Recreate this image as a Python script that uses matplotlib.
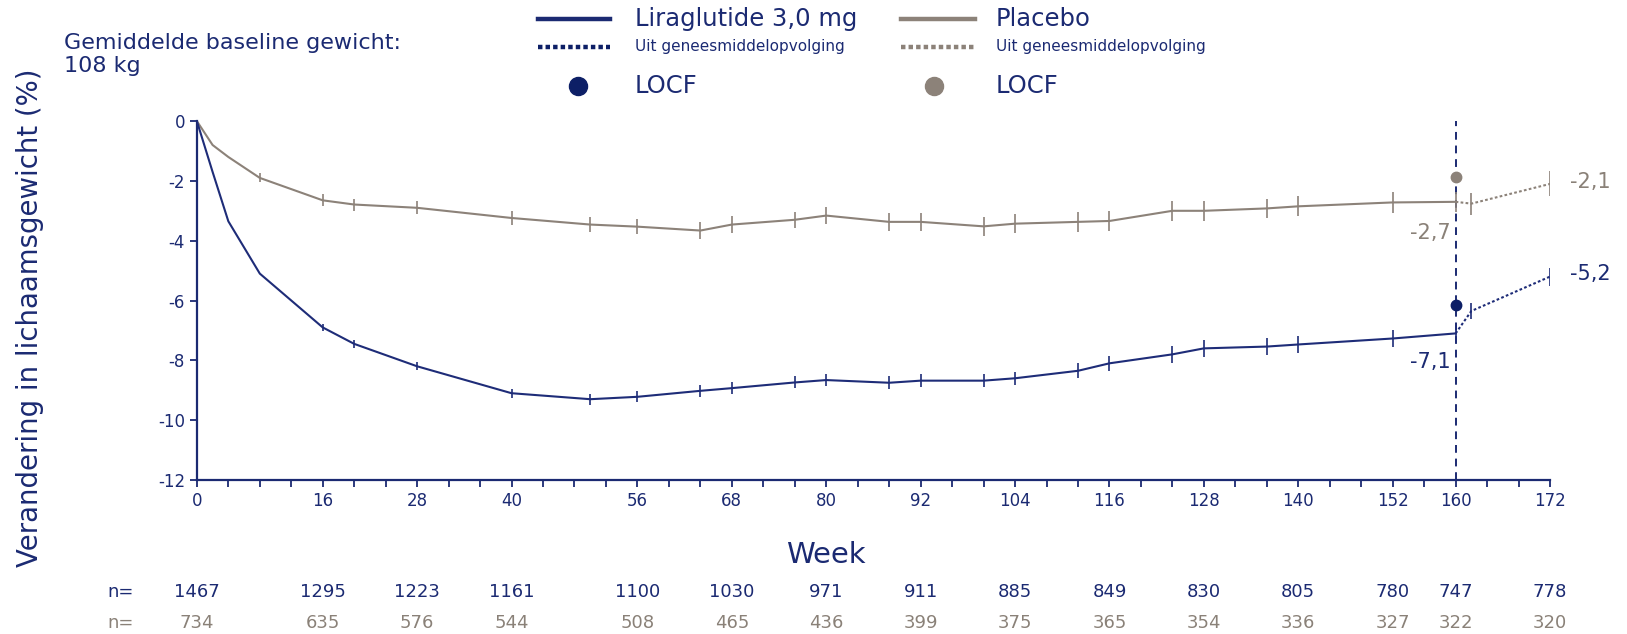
import matplotlib
matplotlib.use("Agg")
import matplotlib.pyplot as plt
from matplotlib.lines import Line2D
import matplotlib.transforms as mtransforms

# Gemiddelde verandering in lichaamsgewicht (%) per week, met foutmarge
weeks = [0, 2, 4, 8, 16, 20, 28, 40, 50, 56, 64, 68, 76, 80, 88, 92, 100, 104,
         112, 116, 124, 128, 136, 140, 152, 160]
lira = [0, -1.7, -3.35, -5.1, -6.9, -7.45, -8.2, -9.1, -9.3, -9.22, -9.02, -8.93,
        -8.74, -8.66, -8.75, -8.68, -8.68, -8.6, -8.35, -8.1, -7.8, -7.6, -7.54,
        -7.47, -7.27, -7.1]
lira_se = [0, 0, 0, 0, 0.13, 0.13, 0.14, 0.15, 0.18, 0.18, 0.2, 0.2, 0.2, 0.2,
           0.22, 0.22, 0.22, 0.22, 0.25, 0.26, 0.28, 0.28, 0.28, 0.28, 0.28, 0.28]
placebo = [0, -0.8, -1.2, -1.9, -2.65, -2.79, -2.9, -3.24, -3.46, -3.53, -3.66,
           -3.46, -3.3, -3.16, -3.37, -3.37, -3.52, -3.43, -3.37, -3.34, -3.0,
           -3.0, -2.92, -2.85, -2.72, -2.7]
placebo_se = [0, 0, 0, 0.15, 0.2, 0.2, 0.22, 0.22, 0.25, 0.26, 0.28, 0.28, 0.27,
              0.28, 0.3, 0.3, 0.32, 0.32, 0.33, 0.33, 0.34, 0.34, 0.33, 0.33, 0.34, 0.34]

# uit geneesmiddelopvolging (na week 160)
off_weeks = [160, 162, 172]
lira_off = [-7.1, -6.35, -5.2]
lira_off_se = [0, 0.28, 0.3]
placebo_off = [-2.7, -2.76, -2.1]
placebo_off_se = [0, 0.37, 0.42]

# LOCF op week 160
locf_week = 160
lira_locf = -6.15
placebo_locf = -1.88

# aantallen patienten
n_weeks = [0, 16, 28, 40, 56, 68, 80, 92, 104, 116, 128, 140, 152, 160, 172]
n_lira = [1467, 1295, 1223, 1161, 1100, 1030, 971, 911, 885, 849, 830, 805, 780, 747, 778]
n_placebo = [734, 635, 576, 544, 508, 465, 436, 399, 375, 365, 354, 336, 327, 322, 320]

navy = "#1b2a72"
blue_line = "#1e2c78"
dot_blue = "#0d1f66"
grey = "#8c8279"
text_grey = "#8a8178"

plt.rcParams["font.family"] = ["DejaVu Sans"]
plt.rcParams["axes.unicode_minus"] = False

fig = plt.figure(figsize=(16.27, 6.34), dpi=100)
ax = fig.add_axes([0.121, 0.243, 0.8317, 0.566])

# lijnen met foutbalken
ax.errorbar(weeks, placebo, yerr=placebo_se, color=grey, lw=1.5, elinewidth=1.2,
            capsize=0, zorder=3)
ax.errorbar(weeks, lira, yerr=lira_se, color=blue_line, lw=1.5, elinewidth=1.2,
            capsize=0, zorder=3)

ax.errorbar(off_weeks, placebo_off, yerr=placebo_off_se, color=grey, lw=1.5,
            ls=(0, (1.3, 1.1)), elinewidth=1.2, capsize=0, zorder=3)
ax.errorbar(off_weeks, lira_off, yerr=lira_off_se, color=blue_line, lw=1.5,
            ls=(0, (1.3, 1.1)), elinewidth=1.2, capsize=0, zorder=3)

ax.axvline(160, color=navy, lw=1.4, ls=(0, (4, 3)), zorder=2)
ax.plot([locf_week], [placebo_locf], "o", ms=7.5, color=grey, zorder=4)
ax.plot([locf_week], [lira_locf], "o", ms=7.5, color=dot_blue, zorder=4)

# eindwaarden
ax.text(174.5, placebo_off[-1] + 0.05, "-2,1", color=text_grey, fontsize=15, va="center", ha="left")
ax.text(174.5, lira_off[-1] + 0.1, "-5,2", color=navy, fontsize=15, va="center", ha="left")
ax.text(159.4, lira[-1] - 0.95, "-7,1", color=navy, fontsize=15, va="center", ha="right")
ax.text(159.4, placebo[-1] - 1.05, "-2,7", color=text_grey, fontsize=15, va="center", ha="right")

# assen
ax.set_xlim(0, 172)
ax.set_ylim(-12, 0)
ax.set_yticks(range(-12, 1, 2))
ax.set_xticks(n_weeks)
ax.set_xticks(range(0, 173, 4), minor=True)
ax.tick_params(axis="both", colors=navy, labelsize=12, length=5, width=1.3, direction="out")
ax.tick_params(axis="x", which="minor", colors=navy, length=5, width=1.3, direction="out")
for s in ["top", "right"]:
    ax.spines[s].set_visible(False)
for s in ["left", "bottom"]:
    ax.spines[s].set_color(navy)
    ax.spines[s].set_linewidth(1.6)

ax.set_xlabel("Week", color=navy, fontsize=21)
ax.xaxis.set_label_coords(0.465, -0.17)
ax.set_ylabel("Verandering in lichaamsgewicht (%)", color=navy, fontsize=19.8)
ax.yaxis.set_label_coords(-0.1127, 0.453)

# n= rijen
trans = mtransforms.blended_transform_factory(ax.transData, fig.transFigure)
fig.text(0.066, 0.0667, "n=", color=navy, fontsize=13, va="center", ha="left")
fig.text(0.066, 0.0173, "n=", color=text_grey, fontsize=13, va="center", ha="left")
for w, a, b in zip(n_weeks, n_lira, n_placebo):
    ax.text(w, 0.0667, str(a), transform=trans, color=navy, fontsize=13, ha="center", va="center")
    ax.text(w, 0.0173, str(b), transform=trans, color=text_grey, fontsize=13, ha="center", va="center")

# baseline tekst
fig.text(0.0395, 0.948, "Gemiddelde baseline gewicht:\n108 kg", color=navy, fontsize=16,
         va="top", ha="left", linespacing=1.2)

# legenda
def leg_line(x0, x1, y, color, ls):
    fig.add_artist(Line2D([x0, x1], [y, y], transform=fig.transFigure, color=color, lw=3.2, ls=ls))

leg_line(0.3304, 0.375, 0.9705, navy, "-")
leg_line(0.3304, 0.375, 0.926, dot_blue, (0, (1, 0.7)))
fig.add_artist(Line2D([0.3552], [0.864], transform=fig.transFigure, marker="o", ms=13, color=dot_blue))
fig.text(0.3903, 0.9705, "Liraglutide 3,0 mg", color=navy, fontsize=17.5, va="center")
fig.text(0.3903, 0.926, "Uit geneesmiddelopvolging", color=navy, fontsize=11, va="center")
fig.text(0.3903, 0.864, "LOCF", color=navy, fontsize=17.5, va="center")

leg_line(0.5536, 0.5995, 0.9705, grey, "-")
leg_line(0.5536, 0.5995, 0.926, grey, (0, (1, 0.7)))
fig.add_artist(Line2D([0.574], [0.864], transform=fig.transFigure, marker="o", ms=13, color=grey))
fig.text(0.6122, 0.9705, "Placebo", color=navy, fontsize=17.5, va="center")
fig.text(0.6122, 0.926, "Uit geneesmiddelopvolging", color=navy, fontsize=11, va="center")
fig.text(0.6122, 0.864, "LOCF", color=navy, fontsize=17.5, va="center")

fig.savefig("out.png", dpi=100)
